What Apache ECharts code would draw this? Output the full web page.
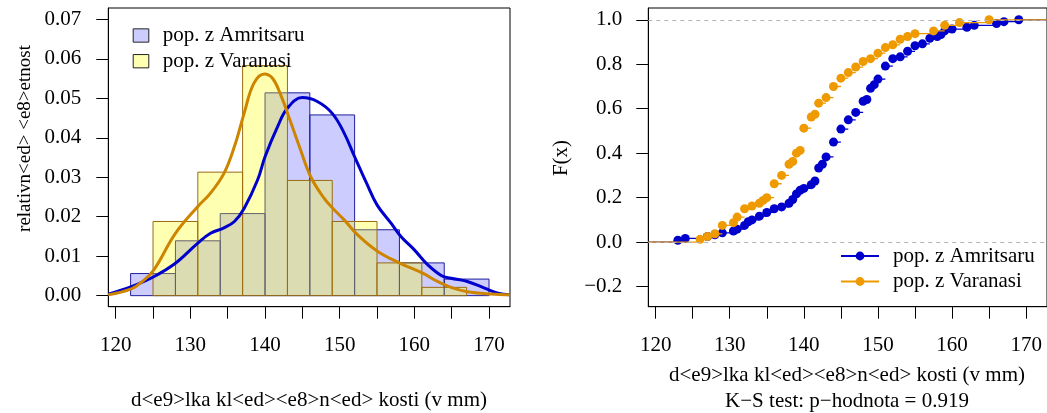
<!DOCTYPE html>
<html>
<head>
<meta charset="utf-8">
<script src="https://cdn.jsdelivr.net/npm/echarts@6/dist/echarts.min.js"></script>
<style>
    html, body { margin: 0; padding: 0; background: #fff; }
    #wrap { position: relative; width: 1047px; height: 413px; overflow: hidden; }
    #left { position: absolute; left: 0; top: 0; width: 540px; height: 413px; }
    #right { position: absolute; left: 540px; top: 0; width: 507px; height: 413px; }
</style>
</head>
<body>
<div id="wrap"><div id="left"></div><div id="right"></div></div>
<script>
// histogram bins and densities
let amrBreaks = [122, 128, 134, 140, 146, 152, 158, 164, 170]
let amrDens = [0.0056, 0.0139, 0.0208, 0.0514, 0.0458, 0.0167, 0.0083, 0.0042]
let varBreaks = [125, 131, 137, 143, 149, 155, 161, 167]
let varDens = [0.0188, 0.0313, 0.0583, 0.0292, 0.0188, 0.0083, 0.0021]

// kernel density curves
let amrCurveX = [119.0, 122.1, 125.1, 128, 131, 132.7, 134.5, 135.9, 137.2, 139, 140, 141.7, 143, 145, 147, 149, 150.6, 152, 153.6, 155, 156.9, 158.2, 160, 161.8, 163.6, 164.9, 167.1, 169.4, 171.2, 172.8]
let amrCurveY = [0.0004, 0.0023, 0.0048, 0.0082, 0.0133, 0.0158, 0.0172, 0.0188, 0.0221, 0.0293, 0.0352, 0.0429, 0.0475, 0.0502, 0.0492, 0.0462, 0.0412, 0.0352, 0.0285, 0.0230, 0.0183, 0.0150, 0.0116, 0.0078, 0.0051, 0.0044, 0.0036, 0.0019, 0.0006, 0.0002]
let varCurveX = [119.0, 122.1, 123.5, 125.1, 128, 131, 132.7, 134.5, 135.9, 137.2, 138.5, 139.9, 141, 142.1, 143.1, 144.6, 146.1, 147.9, 149.1, 150.6, 152.4, 155.1, 158.1, 161.1, 163.1, 164.9, 167.1, 170.3, 172.8]
let varCurveY = [0.0002, 0.0017, 0.0035, 0.0065, 0.0158, 0.0226, 0.026, 0.031, 0.0378, 0.0462, 0.0538, 0.0562, 0.0551, 0.0509, 0.0458, 0.0378, 0.0302, 0.0247, 0.0221, 0.0192, 0.0154, 0.0112, 0.0082, 0.0057, 0.0036, 0.0021, 0.001, 0.0004, 0.0002]

// empirical CDF: distinct values and cumulative counts
let amrN = 120
let amrEcdfX = [123, 124, 127, 128, 129, 130.5, 131, 132, 132.5, 133, 134, 135, 136, 137, 138, 138.5, 139, 139.5, 140, 141, 141.5, 142, 142.5, 143, 144, 145, 146, 147, 148, 148.5, 149, 149.5, 150, 151, 152, 153, 154, 155, 156, 157, 158, 158.5, 159, 160, 162, 163, 166, 167, 169]
let amrEcdfC = [1, 2, 3, 4, 5, 6, 7, 9, 11, 12, 14, 16, 18, 19, 21, 23, 26, 28, 29, 31, 33, 40, 42, 46, 54, 61, 66, 70, 76, 77, 83, 85, 88, 95, 99, 100, 103, 106, 107, 110, 111, 112, 114, 115, 116, 117, 118, 119, 120]
let varN = 80
let varEcdfX = [126, 127, 128, 129, 130.5, 131, 132, 133, 134, 134.5, 135, 136, 137, 138, 138.5, 139, 139.5, 140, 141, 141.5, 142, 143, 144, 145, 146, 147, 148, 149, 150, 151, 152, 153, 154, 155, 157.5, 159, 161, 165]
let varEcdfC = [1, 2, 3, 6, 7, 9, 12, 13, 14, 15, 16, 21, 24, 28, 29, 32, 33, 41, 45, 46, 50, 52, 56, 59, 61, 63, 65, 66, 68, 70, 71, 73, 74, 75, 76, 78, 79, 80]

// axis ticks
let xTicks = [120, 125, 130, 135, 140, 145, 150, 155, 160, 165, 170]
let xLabels = [120, 130, 140, 150, 160, 170]
let yTicksL = [0, 0.01, 0.02, 0.03, 0.04, 0.05, 0.06, 0.07]
let yTicksR = [-0.2, 0, 0.2, 0.4, 0.6, 0.8, 1.0]

let NAME_A = 'pop. z Amritsaru'
let NAME_V = 'pop. z Varanasi'
let XMIN = 119.01
let XMAX = 172.81
let FONT = "'Liberation Serif', 'Times New Roman', serif"
let FS = 21

let BLUE = '#0000CD'
let ORANGE = '#EE9A00'
let CURVE_ORANGE = '#CD8500'

function zip (xs, ys) {
    return xs.map(function (x, i) { return [x, ys[i]] })
}

function bins (breaks, dens) {
    return dens.map(function (d, i) { return [breaks[i], breaks[i + 1], d] })
}

function histRender (fill, stroke) {
    return function (params, api) {
        let p0 = api.coord([api.value(0), api.value(2)])
        let p1 = api.coord([api.value(1), 0])
        return {
            type: 'rect',
            shape: {x: p0[0], y: p0[1], width: p1[0] - p0[0], height: p1[1] - p0[1]},
            style: {fill: fill, stroke: stroke, lineWidth: 1}
        }
    }
}

// steps without verticals, dot at left end of each step
function ecdfData (xs, counts, n) {
    let data = [{value: [XMIN, 0], symbol: 'none'}, {value: [xs[0], 0], symbol: 'none'}, {value: ['-', '-']}]
    xs.forEach(function (x, i) {
        let f = counts[i] / n
        let next = i < xs.length - 1 ? xs[i + 1] : XMAX + 2
        data.push({value: [x, f]})
        data.push({value: [next, f], symbol: 'none'})
        data.push({value: ['-', '-']})
    })
    return data
}

function xAxisOpt () {
    return {
        type: 'value', min: XMIN, max: XMAX,
        axisLine: {show: true, onZero: false, lineStyle: {color: '#000', width: 1}},
        axisTick: {show: true, length: 12, customValues: xTicks, lineStyle: {color: '#000'}},
        axisLabel: {customValues: xLabels, margin: 28, color: '#000', fontFamily: FONT, fontSize: FS},
        splitLine: {show: false}
    }
}

// left: histograms + densities
let chartL = echarts.init(document.getElementById('left'))
chartL.setOption({
    animation: false,
    grid: {left: 108.3, right: 30, top: 8, bottom: 106.3, show: true, borderColor: '#000', borderWidth: 1},
    xAxis: xAxisOpt(),
    yAxis: {
        type: 'value', min: -0.0028, max: 0.0729,
        axisLine: {show: true, onZero: false, lineStyle: {color: '#000', width: 1}},
        axisTick: {show: true, length: 12, customValues: yTicksL, lineStyle: {color: '#000'}},
        axisLabel: {
            customValues: yTicksL, margin: 27, color: '#000', fontFamily: FONT, fontSize: FS,
            formatter: function (v) { return v.toFixed(2) }
        },
        splitLine: {show: false}
    },
    legend: {
        orient: 'vertical', left: 127.7, top: 19.5, itemWidth: 15.6, itemHeight: 13.3, itemGap: 3.7,
        selectedMode: false,
        textStyle: {fontFamily: FONT, fontSize: FS, color: '#000', lineHeight: 22, padding: [0, 0, 0, 9]},
        data: [
            {name: NAME_A, icon: 'rect', itemStyle: {color: 'rgba(0,0,255,0.2)', borderColor: '#222', borderWidth: 1}},
            {name: NAME_V, icon: 'rect', itemStyle: {color: 'rgba(255,255,0,0.3)', borderColor: '#222', borderWidth: 1}}
        ]
    },
    series: [
        {
            name: NAME_A, type: 'custom', data: bins(amrBreaks, amrDens), encode: {x: [0, 1], y: 2},
            renderItem: histRender('rgba(0,0,255,0.2)', '#1E1E9C'), z: 1
        },
        {
            name: NAME_V, type: 'custom', data: bins(varBreaks, varDens), encode: {x: [0, 1], y: 2},
            renderItem: histRender('rgba(255,255,0,0.3)', '#9A6B10'), z: 2
        },
        {
            name: 'hustota A', type: 'line', data: zip(amrCurveX, amrCurveY), smooth: 0.4, symbol: 'none',
            lineStyle: {color: BLUE, width: 3}, z: 3
        },
        {
            name: 'hustota V', type: 'line', data: zip(varCurveX, varCurveY), smooth: 0.4, symbol: 'none',
            lineStyle: {color: CURVE_ORANGE, width: 3}, z: 4
        }
    ],
    graphic: [
        {
            type: 'text', x: 25, y: 138.5, rotation: Math.PI / 2,
            style: {text: 'relativn<ed> <e8>etnost', font: '19px ' + FONT, fill: '#000', align: 'center', verticalAlign: 'middle'}
        },
        {
            type: 'text', x: 309, y: 400,
            style: {text: 'd<e9>lka kl<ed><e8>n<ed> kosti (v mm)', font: FS + 'px ' + FONT, fill: '#000', align: 'center', verticalAlign: 'middle'}
        }
    ]
})

// right: empirical distribution functions
let chartR = echarts.init(document.getElementById('right'))
chartR.setOption({
    animation: false,
    grid: {left: 108.3, right: -3, top: 8, bottom: 106.3, show: true, borderColor: '#000', borderWidth: 1},
    xAxis: xAxisOpt(),
    yAxis: {
        type: 'value', min: -0.2905, max: 1.053,
        axisLine: {show: true, onZero: false, lineStyle: {color: '#000', width: 1}},
        axisTick: {show: true, length: 12, customValues: yTicksR, lineStyle: {color: '#000'}},
        axisLabel: {
            customValues: yTicksR, margin: 26, color: '#000', fontFamily: FONT, fontSize: FS,
            formatter: function (v) { return v.toFixed(1).replace('-', '\u2212') }
        },
        splitLine: {show: false}
    },
    legend: {
        orient: 'vertical', left: 295, top: 240, itemWidth: 38, itemHeight: 11, itemGap: 3.5,
        selectedMode: false,
        textStyle: {fontFamily: FONT, fontSize: FS, color: '#000', lineHeight: 22, padding: [0, 0, 0, 9]},
        data: [NAME_A, NAME_V]
    },
    series: [
        {
            name: NAME_A, type: 'line', data: ecdfData(amrEcdfX, amrEcdfC, amrN),
            symbol: 'circle', symbolSize: 9, showAllSymbol: true, connectNulls: false,
            itemStyle: {color: BLUE}, lineStyle: {color: BLUE, width: 1.3}, z: 3,
            markLine: {
                silent: true, symbol: 'none', label: {show: false},
                lineStyle: {color: '#B3B3B3', type: [4, 4], width: 1},
                data: [{yAxis: 0}, {yAxis: 1}]
            }
        },
        {
            name: NAME_V, type: 'line', data: ecdfData(varEcdfX, varEcdfC, varN),
            symbol: 'circle', symbolSize: 9, showAllSymbol: true, connectNulls: false,
            itemStyle: {color: ORANGE}, lineStyle: {color: ORANGE, width: 1.3}, z: 4
        }
    ],
    graphic: [
        {
            type: 'text', x: 21.7, y: 158, rotation: Math.PI / 2,
            style: {text: 'F(x)', font: FS + 'px ' + FONT, fill: '#000', align: 'center', verticalAlign: 'middle'}
        },
        {
            type: 'text', x: 307, y: 375,
            style: {text: 'd<e9>lka kl<ed><e8>n<ed> kosti (v mm)', font: FS + 'px ' + FONT, fill: '#000', align: 'center', verticalAlign: 'middle'}
        },
        {
            type: 'text', x: 307, y: 401.7,
            style: {text: 'K\u2212S test: p\u2212hodnota = 0.919', font: FS + 'px ' + FONT, fill: '#000', align: 'center', verticalAlign: 'middle'}
        }
    ]
})
</script>
</body>
</html>
